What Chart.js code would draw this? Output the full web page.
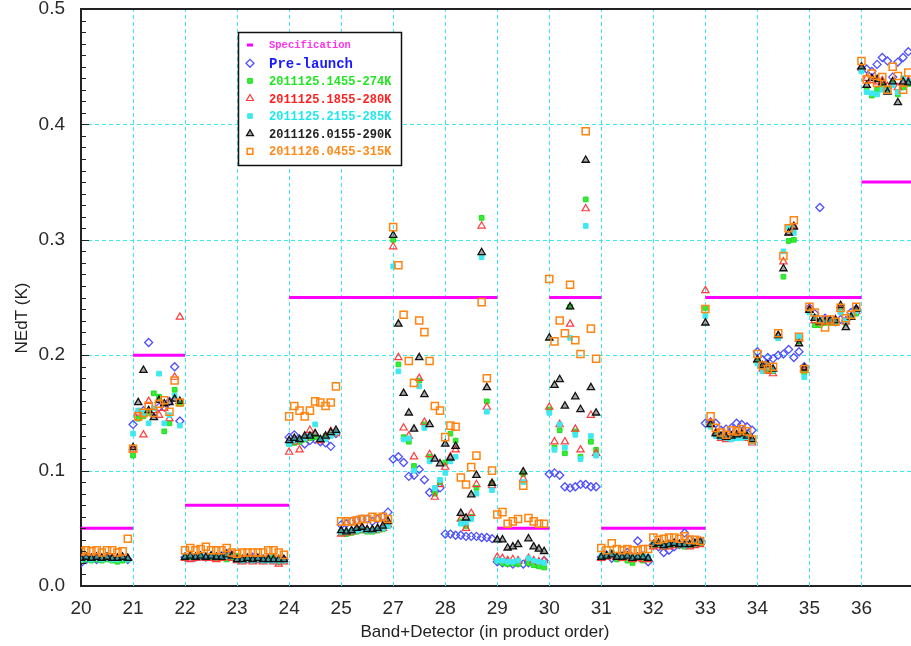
<!DOCTYPE html>
<html>
<head>
<meta charset="utf-8">
<script src="https://cdn.jsdelivr.net/npm/chart.js@4"></script>
<style>
  html, body { margin: 0; padding: 0; background: #fff; overflow: hidden; }
  #wrap { width: 920px; height: 646px; position: relative; }
</style>
</head>
<body>
<div id="wrap"><canvas id="chart" width="920" height="646"></canvas></div>
<script>
/* ── Data: one row of 10 detectors per band ── */
const bandLabels = ["20","21","22","23","24","25","27","28","29","30","31","32","33","34","35","36"];
const specValues = [0.05,0.20,0.07,0.07,0.25,0.25,0.25,0.25,0.05,0.25,0.05,0.05,0.25,0.25,0.25,0.35];

const preLaunch = [
  [0.020,0.023,0.024,0.023,0.024,0.025,0.024,0.023,0.024,0.023],
  [0.140,0.150,0.152,0.211,0.150,0.155,0.155,0.160,0.190,0.143],
  [0.025,0.026,0.025,0.026,0.025,0.026,0.025,0.026,0.028,0.027],
  [0.024,0.023,0.024,0.025,0.024,0.023,0.024,0.023,0.022,0.023],
  [0.129,0.131,0.127,0.123,0.126,0.127,0.125,0.124,0.121,0.132],
  [0.053,0.054,0.056,0.057,0.058,0.058,0.056,0.058,0.060,0.064],
  [0.110,0.112,0.107,0.095,0.096,0.101,0.092,0.081,0.082,0.085],
  [0.045,0.045,0.044,0.044,0.043,0.043,0.043,0.042,0.042,0.041],
  [0.021,0.020,0.020,0.019,0.020,0.019,0.020,0.021,0.020,0.022],
  [0.097,0.098,0.096,0.086,0.085,0.086,0.088,0.088,0.086,0.086],
  [0.025,0.027,0.024,0.025,0.026,0.029,0.025,0.039,0.026,0.021],
  [0.036,0.034,0.029,0.031,0.034,0.036,0.046,0.040,0.037,0.039],
  [0.141,0.142,0.141,0.135,0.136,0.137,0.141,0.140,0.138,0.135],
  [0.203,0.196,0.198,0.197,0.200,0.201,0.205,0.198,0.203,0.190],
  [0.241,0.236,0.328,0.232,0.230,0.229,0.231,0.230,0.237,0.240],
  [0.448,0.448,0.446,0.452,0.458,0.455,0.441,0.454,0.458,0.463]
];
const run274K = [
  [0.022,0.023,0.022,0.023,0.022,0.023,0.022,0.021,0.022,0.023],
  [0.113,0.145,0.147,0.150,0.167,0.164,0.134,0.141,0.170,0.158],
  [0.024,0.025,0.024,0.025,0.024,0.025,0.024,0.024,0.023,0.025],
  [0.026,0.022,0.023,0.022,0.023,0.022,0.023,0.026,0.021,0.022],
  [0.123,0.124,0.125,0.127,0.128,0.129,0.127,0.130,0.131,0.133],
  [0.046,0.045,0.046,0.047,0.048,0.047,0.047,0.048,0.049,0.052],
  [0.300,0.192,0.129,0.125,0.104,0.178,0.140,0.112,0.080,0.090],
  [0.107,0.132,0.126,0.056,0.052,0.060,0.085,0.319,0.160,0.089],
  [0.022,0.020,0.019,0.020,0.019,0.097,0.020,0.018,0.017,0.016],
  [0.153,0.120,0.135,0.115,0.242,0.134,0.112,0.335,0.125,0.118],
  [0.024,0.026,0.029,0.023,0.024,0.022,0.020,0.024,0.022,0.023],
  [0.035,0.036,0.034,0.035,0.036,0.035,0.034,0.035,0.036,0.037],
  [0.241,0.140,0.132,0.130,0.128,0.129,0.130,0.131,0.130,0.126],
  [0.195,0.190,0.188,0.186,0.215,0.268,0.299,0.300,0.212,0.185],
  [0.238,0.226,0.226,0.228,0.228,0.229,0.238,0.228,0.233,0.236],
  [0.447,0.430,0.425,0.430,0.434,0.430,0.436,0.426,0.432,0.435]
];
const run280K = [
  [0.024,0.025,0.024,0.025,0.024,0.025,0.024,0.024,0.025,0.024],
  [0.118,0.150,0.131,0.160,0.152,0.148,0.154,0.145,0.181,0.233],
  [0.024,0.023,0.024,0.025,0.024,0.024,0.023,0.024,0.025,0.024],
  [0.022,0.021,0.022,0.021,0.022,0.021,0.022,0.021,0.019,0.021],
  [0.116,0.125,0.118,0.128,0.135,0.132,0.126,0.129,0.134,0.132],
  [0.045,0.046,0.047,0.048,0.050,0.048,0.048,0.049,0.050,0.053],
  [0.294,0.198,0.137,0.130,0.112,0.180,0.142,0.114,0.077,0.088],
  [0.103,0.112,0.118,0.058,0.050,0.063,0.088,0.312,0.155,0.087],
  [0.025,0.024,0.022,0.023,0.022,0.093,0.024,0.022,0.021,0.022],
  [0.155,0.125,0.140,0.125,0.227,0.136,0.118,0.327,0.148,0.115],
  [0.024,0.025,0.026,0.025,0.024,0.025,0.023,0.024,0.023,0.023],
  [0.034,0.035,0.034,0.034,0.035,0.036,0.035,0.034,0.035,0.036],
  [0.256,0.142,0.133,0.128,0.127,0.128,0.129,0.130,0.128,0.124],
  [0.196,0.188,0.186,0.184,0.217,0.281,0.306,0.312,0.214,0.187],
  [0.240,0.230,0.228,0.230,0.229,0.231,0.240,0.229,0.233,0.238],
  [0.449,0.440,0.438,0.437,0.438,0.433,0.437,0.432,0.436,0.438]
];
const run285K = [
  [0.023,0.024,0.023,0.024,0.023,0.024,0.023,0.023,0.024,0.023],
  [0.132,0.152,0.150,0.141,0.154,0.184,0.141,0.148,0.165,0.139],
  [0.025,0.026,0.025,0.026,0.025,0.026,0.025,0.025,0.026,0.026],
  [0.023,0.022,0.023,0.022,0.023,0.022,0.022,0.022,0.022,0.022],
  [0.123,0.126,0.127,0.128,0.130,0.140,0.128,0.127,0.130,0.133],
  [0.047,0.047,0.048,0.048,0.049,0.048,0.048,0.049,0.050,0.052],
  [0.277,0.186,0.127,0.128,0.100,0.173,0.137,0.108,0.085,0.092],
  [0.098,0.108,0.112,0.054,0.055,0.058,0.080,0.285,0.151,0.083],
  [0.022,0.022,0.021,0.021,0.022,0.090,0.024,0.022,0.021,0.020],
  [0.150,0.118,0.140,0.120,0.215,0.131,0.110,0.312,0.130,0.113],
  [0.026,0.027,0.028,0.026,0.025,0.026,0.025,0.026,0.026,0.025],
  [0.036,0.037,0.035,0.036,0.037,0.036,0.035,0.036,0.037,0.038],
  [0.234,0.138,0.130,0.129,0.128,0.127,0.128,0.128,0.129,0.125],
  [0.193,0.186,0.190,0.187,0.215,0.290,0.311,0.306,0.216,0.181],
  [0.237,0.233,0.230,0.229,0.230,0.230,0.237,0.230,0.234,0.238],
  [0.446,0.428,0.427,0.426,0.430,0.429,0.434,0.428,0.440,0.437]
];
const run290K = [
  [0.024,0.025,0.024,0.025,0.024,0.025,0.024,0.024,0.025,0.024],
  [0.120,0.159,0.187,0.152,0.146,0.161,0.158,0.159,0.162,0.160],
  [0.025,0.026,0.025,0.026,0.025,0.026,0.025,0.025,0.027,0.026],
  [0.023,0.023,0.024,0.023,0.024,0.023,0.023,0.023,0.023,0.023],
  [0.126,0.128,0.127,0.130,0.130,0.132,0.127,0.130,0.133,0.135],
  [0.048,0.047,0.048,0.050,0.051,0.049,0.049,0.050,0.052,0.056],
  [0.304,0.227,0.167,0.150,0.136,0.198,0.166,0.140,0.110,0.106],
  [0.123,0.111,0.121,0.063,0.059,0.079,0.096,0.289,0.172,0.089],
  [0.040,0.040,0.033,0.034,0.036,0.099,0.041,0.034,0.032,0.030],
  [0.215,0.174,0.179,0.156,0.242,0.164,0.153,0.369,0.172,0.150],
  [0.025,0.026,0.027,0.025,0.025,0.026,0.024,0.025,0.025,0.024],
  [0.036,0.037,0.035,0.036,0.037,0.036,0.036,0.036,0.037,0.038],
  [0.228,0.140,0.132,0.130,0.129,0.130,0.131,0.132,0.130,0.127],
  [0.196,0.191,0.192,0.188,0.217,0.275,0.306,0.311,0.210,0.189],
  [0.239,0.232,0.229,0.229,0.230,0.230,0.243,0.224,0.233,0.240],
  [0.450,0.434,0.440,0.439,0.436,0.428,0.437,0.419,0.437,0.436]
];
const run315K = [
  [0.030,0.031,0.030,0.031,0.029,0.031,0.031,0.029,0.030,0.041],
  [0.119,0.147,0.150,0.156,0.150,0.158,0.161,0.151,0.178,0.159],
  [0.031,0.033,0.031,0.032,0.034,0.031,0.031,0.031,0.033,0.029],
  [0.028,0.029,0.029,0.029,0.029,0.029,0.031,0.031,0.029,0.027],
  [0.147,0.156,0.152,0.147,0.152,0.160,0.159,0.156,0.159,0.173],
  [0.056,0.056,0.056,0.057,0.058,0.058,0.060,0.059,0.060,0.058],
  [0.311,0.278,0.235,0.195,0.176,0.230,0.220,0.195,0.156,0.152],
  [0.129,0.139,0.138,0.094,0.088,0.103,0.113,0.246,0.180,0.100],
  [0.062,0.064,0.054,0.056,0.058,0.087,0.059,0.056,0.054,0.054],
  [0.266,0.212,0.230,0.219,0.261,0.213,0.201,0.394,0.223,0.197],
  [0.033,0.031,0.037,0.032,0.031,0.032,0.031,0.031,0.032,0.032],
  [0.042,0.040,0.041,0.042,0.042,0.041,0.043,0.040,0.040,0.039],
  [0.240,0.147,0.137,0.133,0.131,0.135,0.134,0.136,0.134,0.127],
  [0.201,0.191,0.188,0.190,0.219,0.286,0.310,0.317,0.216,0.188],
  [0.242,0.237,0.231,0.224,0.231,0.229,0.241,0.232,0.235,0.242],
  [0.455,0.439,0.444,0.436,0.441,0.430,0.450,0.442,0.430,0.445]
];

/* ── Helpers ── */
// detector d of band b sits at b + d/10
function toPoints(rows) {
  const pts = [];
  rows.forEach((vals, b) => vals.forEach((v, d) => pts.push({ x: b + d / 10, y: v })));
  return pts;
}
function specPoints() {
  const pts = [];
  specValues.forEach((v, b) => { pts.push({ x: b, y: v }, { x: b + 1, y: v }, { x: b + 1, y: null }); });
  return pts;
}

const CYAN = "#3ee8f0";

const series = [
  { label: "Pre-launch",          rows: preLaunch, color: "#1a1aff", mark: "#5050ff", style: "rectRot",  r: 4,   fill: "rgba(0,0,0,0)", bw: 1.3, font: "bold 14px 'Liberation Mono'" },
  { label: "2011125.1455-274K",   rows: run274K,   color: "#22e622", mark: "#22dd22", style: "rect",     r: 3.3, fill: "#33ee33",       bw: 1,   font: "bold 12px 'Liberation Mono'" },
  { label: "2011125.1855-280K",   rows: run280K,   color: "#ff2020", mark: "#ff3b3b", style: "triangle", r: 4.2, fill: "rgba(0,0,0,0)", bw: 1.2, font: "bold 12px 'Liberation Mono'" },
  { label: "2011125.2155-285K",   rows: run285K,   color: "#1ee8ee", mark: CYAN,      style: "rect",     r: 3.3, fill: CYAN,            bw: 1,   font: "bold 12px 'Liberation Mono'" },
  { label: "2011126.0155-290K",   rows: run290K,   color: "#222222", mark: "#111111", style: "triangle", r: 4.2, fill: "rgba(60,60,60,0.45)", bw: 1.3, font: "bold 12px 'Liberation Mono'" },
  { label: "2011126.0455-315K",   rows: run315K,   color: "#ff8a1a", mark: "#ff8410", style: "rect",     r: 5,   fill: "rgba(0,0,0,0)", bw: 1.5, font: "bold 12px 'Liberation Mono'" }
];

const datasets = [{
  label: "Specification",
  data: specPoints(),
  showLine: true,
  spanGaps: false,
  borderColor: "#ff00ff",
  borderWidth: 3,
  pointRadius: 0,
  order: 10
}].concat(series.map((s, i) => ({
  label: s.label,
  data: toPoints(s.rows),
  pointStyle: s.style,
  pointRadius: s.r,
  pointHoverRadius: s.r,
  pointBorderWidth: s.bw,
  pointBorderColor: s.mark,
  pointBackgroundColor: s.fill,
  showLine: false,
  order: 9 - i
})));

/* ── Dashed cyan grid (drawn under the marks) ── */
const gridPlugin = {
  id: "dashGrid",
  beforeDatasetsDraw(chart) {
    const ctx = chart.ctx, a = chart.chartArea, xs = chart.scales.x, ys = chart.scales.y;
    ctx.save();
    ctx.strokeStyle = CYAN; ctx.lineWidth = 1; ctx.setLineDash([4, 3]);
    for (let i = 1; i < bandLabels.length; i++) {
      const px = Math.round(xs.getPixelForValue(i)) + 0.5;
      ctx.beginPath(); ctx.moveTo(px, a.bottom); ctx.lineTo(px, a.top); ctx.stroke();
    }
    for (let k = 1; k < 5; k++) {
      const py = Math.round(ys.getPixelForValue(k / 10)) + 0.5;
      ctx.beginPath(); ctx.moveTo(a.left, py); ctx.lineTo(a.right, py); ctx.stroke();
    }
    ctx.restore();
  }
};

/* ── Frame, minor ticks, labels, titles and legend box ── */
const decorPlugin = {
  id: "decor",
  afterDraw(chart) {
    const ctx = chart.ctx, a = chart.chartArea, xs = chart.scales.x, ys = chart.scales.y;
    ctx.save();
    // y minor ticks every 0.01
    ctx.strokeStyle = "#222"; ctx.lineWidth = 1;
    for (let k = 1; k < 50; k++) {
      const py = Math.round(ys.getPixelForValue(k / 100)) + 0.5;
      const len = k % 10 === 0 ? 8 : 5;
      ctx.beginPath(); ctx.moveTo(a.left, py); ctx.lineTo(a.left + len, py); ctx.stroke();
    }
    // top frame line
    ctx.strokeStyle = "#222"; ctx.lineWidth = 2;
    ctx.beginPath(); ctx.moveTo(a.left, a.top); ctx.lineTo(a.right, a.top); ctx.stroke();

    // x tick labels (band names)
    ctx.fillStyle = "#2a2a2a";
    ctx.font = "19px 'Liberation Sans'";
    ctx.textAlign = "center"; ctx.textBaseline = "middle";
    bandLabels.forEach((lab, i) => ctx.fillText(lab, xs.getPixelForValue(i), 609));

    // axis titles
    ctx.fillStyle = "#222";
    ctx.font = "17px 'Liberation Sans'";
    ctx.fillText("Band+Detector (in product order)", 485, 632);
    ctx.translate(22, 318); ctx.rotate(-Math.PI / 2);
    ctx.fillText("NEdT (K)", 0, 0);
    ctx.restore();

    // legend box
    ctx.save();
    ctx.fillStyle = "#fff"; ctx.fillRect(238, 32, 164, 134);
    ctx.strokeStyle = "#111"; ctx.lineWidth = 1.5; ctx.strokeRect(238.5, 32.5, 163, 133);
    ctx.textAlign = "left"; ctx.textBaseline = "middle";
    // specification entry
    ctx.strokeStyle = "#ff00ff"; ctx.lineWidth = 3;
    ctx.beginPath(); ctx.moveTo(247, 45); ctx.lineTo(253, 45); ctx.stroke();
    ctx.fillStyle = "#ff33ee"; ctx.font = "bold 10.5px 'Liberation Mono'";
    ctx.fillText("Specification", 269, 45);
    series.forEach((s, i) => {
      const y = 63.3 + i * 17.6;
      ctx.fillStyle = s.fill; ctx.strokeStyle = s.mark; ctx.lineWidth = s.bw;
      Chart.helpers.drawPoint(ctx, { pointStyle: s.style, radius: Math.min(s.r, 4), rotation: 0, borderWidth: s.bw }, 250, y);
      ctx.fillStyle = s.color; ctx.font = s.font;
      ctx.fillText(s.label, 269, y + 1);
    });
    ctx.restore();
  }
};

new Chart(document.getElementById("chart"), {
  type: "scatter",
  data: { datasets },
  options: {
    responsive: false,
    animation: false,
    events: [],
    layout: { padding: { left: 0, right: 2, top: 9, bottom: 0 } },
    plugins: { legend: { display: false }, tooltip: { enabled: false } },
    scales: {
      x: {
        type: "linear", min: 0, max: 16,
        afterFit(scale) { scale.height = 60; scale.paddingLeft = 0; scale.paddingRight = 0; },
        afterBuildTicks(scale) { scale.ticks = bandLabels.map((_, i) => ({ value: i })); },
        ticks: { display: false },
        grid: { display: false },
        border: { color: "#222", width: 2 }
      },
      y: {
        min: 0, max: 0.5,
        afterFit(scale) { scale.width = 81; scale.paddingTop = 0; scale.paddingBottom = 0; },
        ticks: {
          stepSize: 0.1, padding: 8, color: "#2a2a2a",
          font: { family: "'Liberation Sans'", size: 19 },
          callback: v => v.toFixed(1)
        },
        grid: { display: false },
        border: { color: "#222", width: 2 }
      }
    }
  },
  plugins: [gridPlugin, decorPlugin]
});
</script>
</body>
</html>
